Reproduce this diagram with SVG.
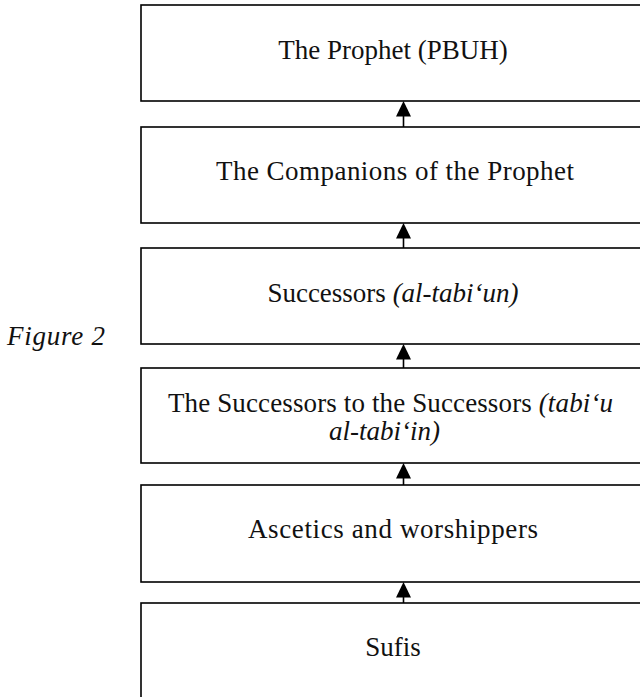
<svg xmlns="http://www.w3.org/2000/svg" width="640" height="697" viewBox="0 0 640 697">
<style>
.box{fill:#fff;stroke:#000;stroke-width:1.6}
.t{font-family:"Liberation Serif","Times New Roman",serif;font-size:27px;fill:#111;text-anchor:middle}
.i{font-style:italic}
.ln{stroke:#000;stroke-width:1.6;fill:none}
.ah{fill:#000}
</style>
<rect width="640" height="697" fill="#fff"/>
<text class="t i" x="7" y="345" style="text-anchor:start" textLength="98">Figure 2</text>
<g id="n1"><rect class="box" x="141" y="5" width="502" height="96"/><text class="t" x="393" y="59">The Prophet (PBUH)</text></g>
<g id="n2"><rect class="box" x="141" y="127" width="502" height="96"/><text class="t" x="395" y="180" textLength="358">The Companions of the Prophet</text></g>
<g id="n3"><rect class="box" x="141" y="248" width="502" height="96"/><text class="t" x="393" y="302">Successors <tspan class="i">(al-tabi‘un)</tspan></text></g>
<g id="n4"><rect class="box" x="141" y="368" width="502" height="95"/><text class="t" x="390.5" y="412" textLength="445">The Successors to the Successors <tspan class="i">(tabi‘u</tspan></text><text class="t i" x="384.5" y="440">al-tabi‘in)</text></g>
<g id="n5"><rect class="box" x="141" y="485" width="502" height="97"/><text class="t" x="393" y="538" textLength="290">Ascetics and worshippers</text></g>
<g id="n6"><rect class="box" x="141" y="603" width="502" height="96"/><text class="t" x="393" y="656">Sufis</text></g>
<g id="connectors">
<line class="ln" x1="403.5" y1="127" x2="403.5" y2="114"/><polygon class="ah" points="403.5,101 396,116.5 411,116.5"/>
<line class="ln" x1="403.5" y1="248" x2="403.5" y2="236"/><polygon class="ah" points="403.5,223 396,238.5 411,238.5"/>
<line class="ln" x1="403.5" y1="368" x2="403.5" y2="357"/><polygon class="ah" points="403.5,344 396,359.5 411,359.5"/>
<line class="ln" x1="403.5" y1="485" x2="403.5" y2="476"/><polygon class="ah" points="403.5,463 396,478.5 411,478.5"/>
<line class="ln" x1="403.5" y1="603" x2="403.5" y2="595"/><polygon class="ah" points="403.5,582 396,597.5 411,597.5"/>
</g>
</svg>
